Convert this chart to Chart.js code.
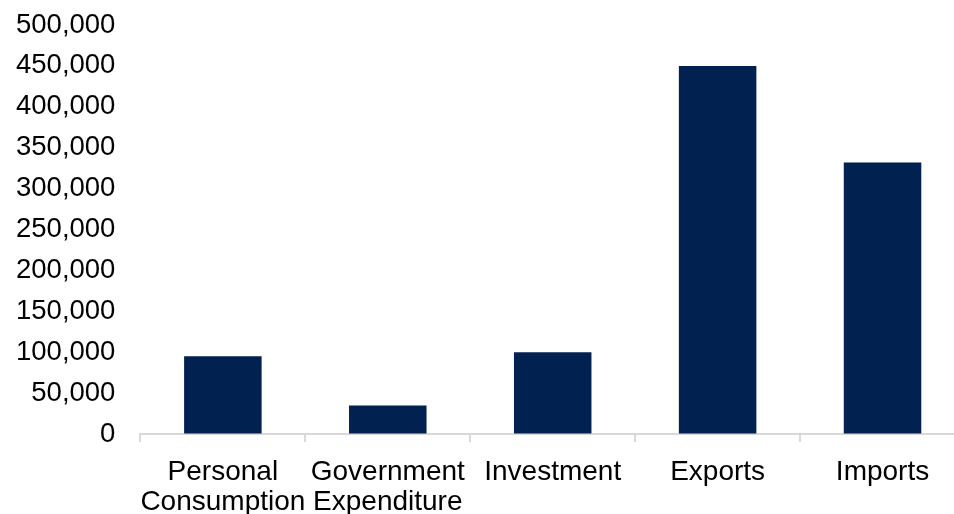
<!DOCTYPE html>
<html>
<head>
<meta charset="utf-8">
<script src="https://cdn.jsdelivr.net/npm/chart.js@4"></script>
<style>
  html, body { margin: 0; padding: 0; background: #fff; overflow: hidden; }
  /* el grafico original esta recortado a la derecha */
  #wrap { width: 965px; height: 514px; }
</style>
</head>
<body>
<div id="wrap"><canvas id="gdpChart"></canvas></div>
<script>
// categorias y valores
const categories = [['Personal', 'Consumption'], ['Government', 'Expenditure'], 'Investment', 'Exports', 'Imports'];
const values = [95000, 35000, 100000, 450000, 332000];
const yMax = 500000;
const yStep = 50000;

const barColor = '#012150';
const axisGray = '#d9d9d9';
const fontFamily = '"Liberation Sans", Arial, sans-serif';

const ctx = document.getElementById('gdpChart').getContext('2d');
const gdpChart = new Chart(ctx, {
    type: 'bar',
    data: {
        labels: categories,
        datasets: [{
            data: values,
            backgroundColor: barColor,
            barPercentage: 0.47,
            categoryPercentage: 1.0
        }]
    },
    options: {
        responsive: true,
        maintainAspectRatio: false,
        animation: false,
        layout: { padding: { top: 25, right: 0, left: 13, bottom: -18 } },
        plugins: {
            legend: { display: false },
            tooltip: { enabled: false }
        },
        scales: {
            x: {
                grid: {
                    offset: true,
                    drawOnChartArea: false,
                    drawTicks: true,
                    tickLength: 8,
                    color: axisGray,
                    lineWidth: 2
                },
                border: { display: true, color: axisGray, width: 2 },
                ticks: {
                    color: '#000',
                    font: { family: fontFamily, size: 28, lineHeight: 1.07 },
                    maxRotation: 0,
                    minRotation: 0,
                    autoSkip: false,
                    padding: 15
                }
            },
            y: {
                min: 0,
                max: yMax,
                // marcas invisibles para dejar hueco entre etiquetas y barras
                grid: {
                    display: true,
                    drawOnChartArea: false,
                    drawTicks: true,
                    tickLength: 22,
                    color: 'rgba(0,0,0,0)'
                },
                border: { display: false },
                ticks: {
                    stepSize: yStep,
                    color: '#000',
                    font: { family: fontFamily, size: 27.5 },
                    padding: 3,
                    callback: v => v.toLocaleString('en-US')
                }
            }
        }
    }
});
</script>
</body>
</html>
